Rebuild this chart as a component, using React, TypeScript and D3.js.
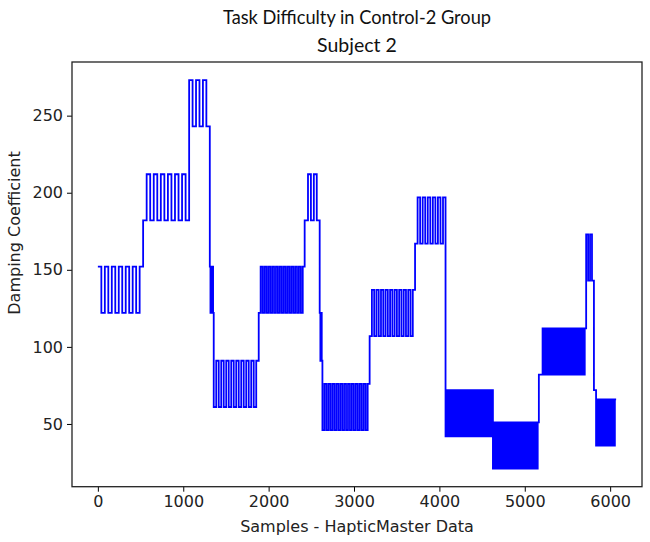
import React, { useEffect, useRef } from 'react';
import * as d3 from 'd3';

const segStart = [0, 530, 1069, 1311, 1357, 1884, 2422, 2461, 2598, 2630, 3183, 3715, 4072, 4627, 5165, 5192, 5719, 5810, 5835];
const segLow = [122, 182, 243, 122, 61, 122, 182, 182, 91, 46, 107, 167, 42, 21, 82, 82, 143, 72, 36];
const segHigh = [152, 212, 273, 152, 91, 152, 182, 212, 122, 76, 137, 197, 72, 51, 82, 112, 173, 72, 66];
// number of level changes inside each block, and whether the block opens on its high level
const segSteps = [13, 13, 6, 6, 18, 24, 1, 4, 4, 24, 20, 12, 30, 40, 1, 32, 4, 1, 16];
const segLeadHigh = [1, 0, 1, 1, 0, 0, 0, 1, 1, 0, 0, 0, 0, 0, 0, 0, 1, 0, 0];
const lastSample = 6070;

const xTicks = [0, 1000, 2000, 3000, 4000, 5000, 6000];
const yTicks = [50, 100, 150, 200, 250];

function buildPoints() {
  const pts: { x: number; y: number }[] = [];
  segStart.forEach((s, i) => {
    const e = i < segStart.length - 1 ? segStart[i + 1] : lastSample;
    const n = segSteps[i];
    const step = (e - s) / n;
    for (let k = 0; k < n; k++) {
      const high = (k % 2 === 0) === (segLeadHigh[i] === 1);
      pts.push({ x: s + k * step, y: high ? segHigh[i] : segLow[i] });
    }
  });
  pts.push({ x: lastSample, y: pts[pts.length - 1].y });
  return pts;
}

export default function App() {
  const svgRef = useRef<SVGSVGElement>(null);

  useEffect(() => {
    if (!svgRef.current) return;
    document.body.style.margin = '0';

    const width = 650;
    const height = 542;
    const margin = { top: 62, right: 8, bottom: 55.3, left: 72 };

    const svg = d3.select(svgRef.current);
    svg.selectAll('*').remove();
    svg.attr('width', width).attr('height', height).style('background', '#fff');

    const x = d3.scaleLinear().domain([-303, 6373]).range([margin.left, width - margin.right]);
    const y = d3.scaleLinear().domain([9.3, 284.8]).range([height - margin.bottom, margin.top]);

    const tickFont = 'DejaVu Sans, sans-serif';

    // signal
    const line = d3.line<{ x: number; y: number }>()
      .x(d => x(d.x))
      .y(d => y(d.y))
      .curve(d3.curveStepAfter);

    svg.append('path')
      .datum(buildPoints())
      .attr('d', line)
      .attr('fill', 'none')
      .attr('stroke', '#0000ff')
      .attr('stroke-width', 1.8);

    // axes
    const xAxis = svg.append('g')
      .attr('transform', `translate(0,${height - margin.bottom})`)
      .call(d3.axisBottom(x).tickValues(xTicks).tickFormat(d3.format('d')).tickSize(5).tickPadding(4).tickSizeOuter(0));
    xAxis.select('.domain').remove();
    xAxis.selectAll('text').style('font-family', tickFont).style('font-size', '16px').attr('fill', '#222');

    const yAxis = svg.append('g')
      .attr('transform', `translate(${margin.left},0)`)
      .call(d3.axisLeft(y).tickValues(yTicks).tickFormat(d3.format('d')).tickSize(5).tickPadding(4).tickSizeOuter(0));
    yAxis.select('.domain').remove();
    yAxis.selectAll('text').style('font-family', tickFont).style('font-size', '16px').attr('fill', '#222');

    // frame
    svg.append('rect')
      .attr('x', margin.left)
      .attr('y', margin.top)
      .attr('width', width - margin.left - margin.right)
      .attr('height', height - margin.top - margin.bottom)
      .attr('fill', 'none')
      .attr('stroke', '#222')
      .attr('stroke-width', 1.3);

    // titles
    svg.append('text')
      .attr('x', 357).attr('y', 24)
      .attr('text-anchor', 'middle')
      .attr('textLength', 268)
      .attr('lengthAdjust', 'spacingAndGlyphs')
      .style('font-family', 'Lato, sans-serif')
      .style('font-size', '19.5px')
      .attr('fill', '#111')
      .text('Task Difficulty in Control-2 Group');

    svg.append('text')
      .attr('x', 357).attr('y', 52)
      .attr('text-anchor', 'middle')
      .style('font-family', 'Lato, sans-serif')
      .style('font-size', '19.5px')
      .attr('fill', '#111')
      .text('Subject 2');

    svg.append('text')
      .attr('x', 357).attr('y', 532)
      .attr('text-anchor', 'middle')
      .style('font-family', tickFont)
      .style('font-size', '16px')
      .attr('fill', '#222')
      .text('Samples - HapticMaster Data');

    svg.append('text')
      .attr('transform', 'translate(20,233) rotate(-90)')
      .attr('text-anchor', 'middle')
      .style('font-family', tickFont)
      .style('font-size', '16px')
      .attr('fill', '#222')
      .text('Damping Coefficient');
  }, []);

  return <svg ref={svgRef} />;
}
